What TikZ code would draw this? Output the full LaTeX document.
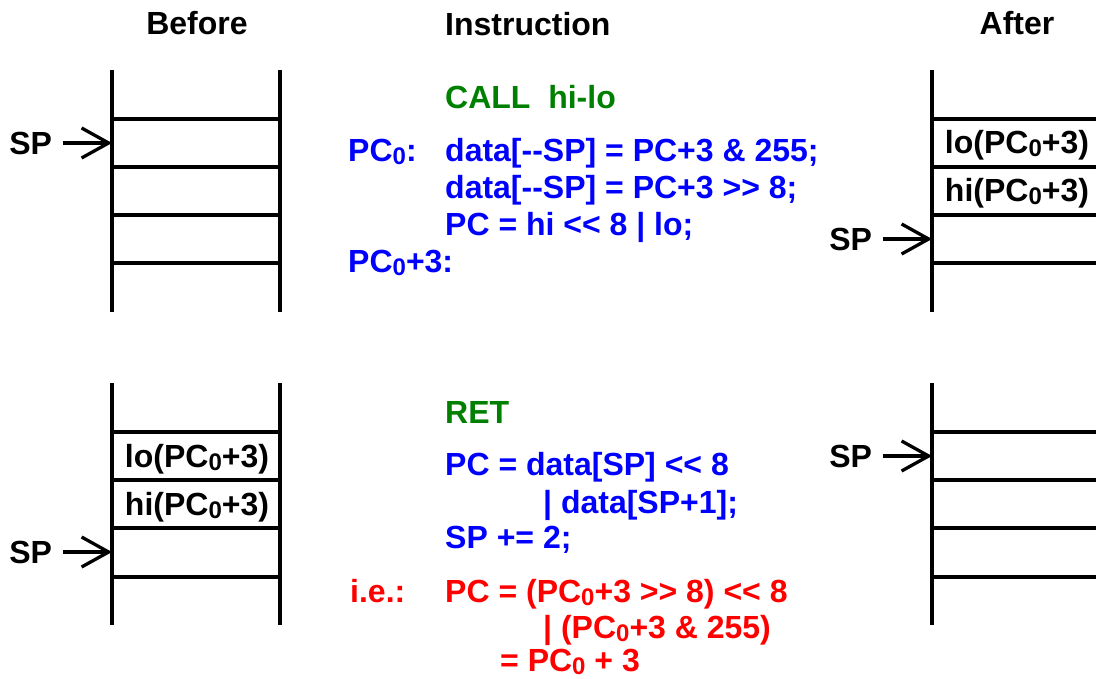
\documentclass[tikz,border=0pt]{standalone}
\usepackage{fontspec}
\setmainfont{Liberation Sans}[Ligatures=TeXOff]
\usetikzlibrary{positioning, arrows.meta}
\usepackage{xcolor}

\definecolor{opgreen}{RGB}{0,128,0}
\definecolor{codeblue}{RGB}{0,0,255}
\definecolor{codered}{RGB}{255,0,0}

% PC with a lowered zero
\newcommand{\pczero}{PC\raisebox{-3pt}{\fontsize{24}{24}\selectfont 0}}

\begin{document}
\begin{tikzpicture}[x=1pt, y=-1pt,
  font=\fontsize{32}{38}\selectfont\bfseries,
  heading/.style={inner sep=0pt, anchor=base},
  opcode/.style={inner sep=0pt, anchor=base west, text=opgreen},
  code/.style={inner sep=0pt, anchor=base west, text=codeblue},
  expansion/.style={inner sep=0pt, anchor=base west, text=codered},
  cell/.style={inner sep=0pt, anchor=base},
  spname/.style={inner sep=0pt, outer xsep=11pt},
  wall/.style={line width=3.3pt},
  pointer/.style={line width=3.3pt, -{Straight Barb[length=27pt, width=30pt]}}
]
    \useasboundingbox (0,0) rectangle (1096,679);

    % Column headings
    \node[heading] (before) at (197,35) {Before};
    \node[heading, anchor=base west] (instr) at (445,36) {Instruction};
    \node[heading] (after) at (1017,35) {After};

    % Stack before CALL
    \draw[wall] (112,70) -- (112,312);
    \draw[wall] (280,70) -- (280,312);
    \draw[wall] (112,119) -- (280,119);
    \draw[wall] (112,167) -- (280,167);
    \draw[wall] (112,215) -- (280,215);
    \draw[wall] (112,263) -- (280,263);

    % Stack after CALL
    \draw[wall] (932,70) -- (932,312);
    \draw[wall] (932,119) -- (1096,119);
    \draw[wall] (932,167) -- (1096,167);
    \draw[wall] (932,215) -- (1096,215);
    \draw[wall] (932,263) -- (1096,263);
    \node[cell] (loA) at (1017,154) {lo(\pczero+3)};
    \node[cell] (hiA) at (1017,202) {hi(\pczero+3)};

    % Stack before RET
    \draw[wall] (112,383) -- (112,625);
    \draw[wall] (280,383) -- (280,625);
    \draw[wall] (112,432) -- (280,432);
    \draw[wall] (112,480) -- (280,480);
    \draw[wall] (112,528) -- (280,528);
    \draw[wall] (112,577) -- (280,577);
    \node[cell] (loB) at (197,467) {lo(\pczero+3)};
    \node[cell] (hiB) at (197,515) {hi(\pczero+3)};

    % Stack after RET
    \draw[wall] (932,383) -- (932,625);
    \draw[wall] (932,432) -- (1096,432);
    \draw[wall] (932,480) -- (1096,480);
    \draw[wall] (932,528) -- (1096,528);
    \draw[wall] (932,577) -- (1096,577);

    % Stack pointers
    \coordinate (tip1) at (112,143);
    \coordinate (tip2) at (932,239);
    \coordinate (tip3) at (112,552);
    \coordinate (tip4) at (932,456);
    \node[spname, left=49pt of tip1] (sp1) {SP};
    \node[spname, left=49pt of tip2] (sp2) {SP};
    \node[spname, left=49pt of tip3] (sp3) {SP};
    \node[spname, left=49pt of tip4] (sp4) {SP};
    \draw[pointer] (sp1) -- (tip1);
    \draw[pointer] (sp2) -- (tip2);
    \draw[pointer] (sp3) -- (tip3);
    \draw[pointer] (sp4) -- (tip4);

    % CALL
    \node[opcode] (call) at (445,109) {CALL\ \ hi-lo};
    \node[code] (pc0) at (348,162) {\pczero:};
    \node[code] (c1) at (445,162) {data[--SP] = PC+3 \& 255;};
    \node[code] (c2) at (445,199) {data[--SP] = PC+3 >> 8;};
    \node[code] (c3) at (445,236) {PC = hi << 8 | lo;};
    \node[code] (pc3) at (348,273) {\pczero+3:};

    % RET
    \node[opcode] (ret) at (445,423) {RET};
    \node[code] (r1) at (445,475) {PC = data[SP] << 8};
    \node[code] (r2) at (543,513) {| data[SP+1];};
    \node[code] (r3) at (445,548) {SP += 2;};
    \node[expansion] (ie) at (350,602) {i.e.:};
    \node[expansion] (e1) at (445,602) {PC = (\pczero+3 >> 8) << 8};
    \node[expansion] (e2) at (543,638) {| (\pczero+3 \& 255)};
    \node[expansion] (e3) at (500,671) {= \pczero{} + 3};

\end{tikzpicture}
\end{document}
